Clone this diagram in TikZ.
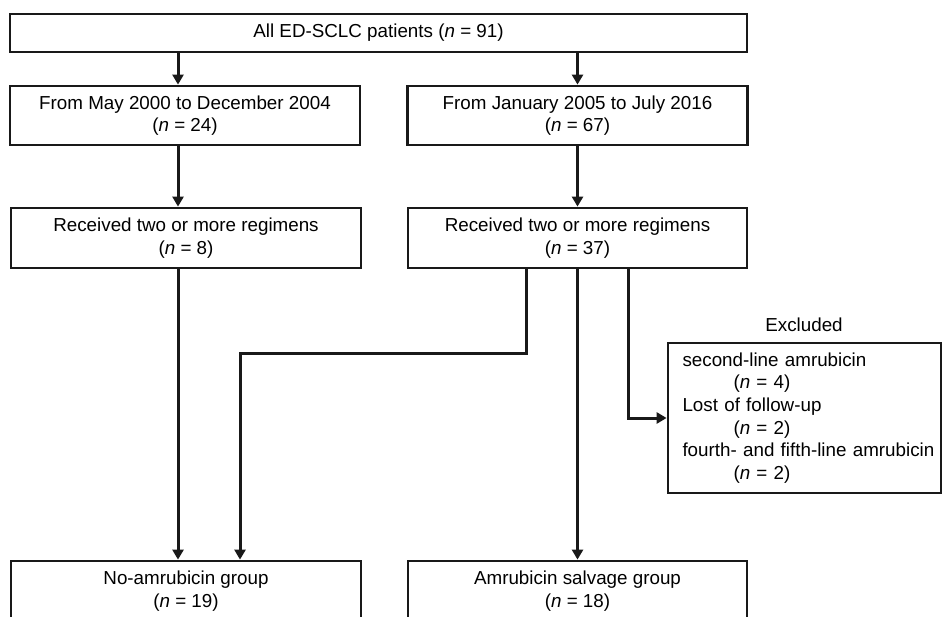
\documentclass[tikz,border=0pt]{standalone}
\usepackage{fontspec}
\setmainfont{Liberation Sans}
\usetikzlibrary{arrows.meta}
\newcommand{\ncount}[1]{(\textit{n} = #1)}
\newcommand{\exline}[1]{\mbox{\hspace*{6pt}#1}}

\begin{document}
\begin{tikzpicture}[x=1pt, y=-1pt,
  box/.style={draw=black!90, line width=2.8pt, align=center, inner sep=0pt,
    font=\fontsize{18.8}{22.6}\selectfont},
  conn/.style={draw=black!90, line width=3pt, -{Triangle[length=10pt, width=11pt]}}]
  \useasboundingbox (0,0) rectangle (944,617);

  % Top
  \node[box, minimum width=737pt, minimum height=38pt] (all) at (378.5,33) {All ED-SCLC patients \ncount{91}};

  % Periods
  \node[box, minimum width=350pt, minimum height=59pt] (early) at (185,115.5) {From May 2000 to December 2004\\\ncount{24}};
  \node[box, minimum width=340pt, minimum height=59pt] (late) at (577.5,115.5) {From January 2005 to July 2016\\\ncount{67}};

  % Two or more regimens
  \node[box, minimum width=350pt, minimum height=60pt] (regL) at (186,238) {Received two or more regimens\\\ncount{8}};
  \node[box, minimum width=339pt, minimum height=60pt] (regR) at (577.5,238) {Received two or more regimens\\\ncount{37}};

  % Excluded
  \node[font=\fontsize{18.8}{22.6}\selectfont] (exlabel) at (804,325) {Excluded};
  \node[box, align=left, text width=256pt, inner xsep=8.5pt, minimum height=150pt] (excl) at (804.5,418)
    {\exline{second-line amrubicin}\\\exline{\hspace*{51pt}\ncount{4}}\\\exline{Lost of follow-up}\\
     \exline{\hspace*{51pt}\ncount{2}}\\\exline{fourth- and fifth-line amrubicin}\\\exline{\hspace*{51pt}\ncount{2}}};

  % Groups
  \node[box, minimum width=350pt, minimum height=60pt] (noamr) at (186,591) {No-amrubicin group\\\ncount{19}};
  \node[box, minimum width=339pt, minimum height=60pt] (amr) at (577.5,591) {Amrubicin salvage group\\\ncount{18}};

  % Connectors
  \coordinate (lcol) at (178,0);
  \coordinate (bendA) at (526,353);
  \coordinate (bendB) at (240,353);
  \coordinate (bendC) at (628,418);
  \draw[conn] (all.south -| lcol) -- (early.north -| lcol);
  \draw[conn] (all.south -| late.north) -- (late.north);
  \draw[conn] (early.south -| lcol) -- (regL.north -| lcol);
  \draw[conn] (late.south) -- (regR.north);
  \draw[conn] (regL.south -| lcol) -- (noamr.north -| lcol);
  \draw[conn] (regR.south -| bendA) -- (bendA) -- (bendB) -- (noamr.north -| bendB);
  \draw[conn] (regR.south) -- (amr.north);
  \draw[conn] (regR.south -| bendC) |- (excl.west);
\end{tikzpicture}
\end{document}
